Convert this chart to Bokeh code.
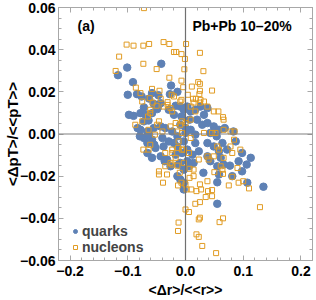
import numpy as np
from bokeh.plotting import figure
from bokeh.models import FixedTicker, LinearAxis, Span, Label, Range1d
from bokeh.embed import file_html
from bokeh.resources import INLINE

quarks_x = [-0.101, -0.117, -0.042, -0.091, -0.025, -0.014, -0.100, -0.084, -0.076, -0.063,
            -0.058, -0.047, -0.027, -0.072, -0.055, -0.048, -0.017, -0.009, -0.098, -0.090,
            -0.078, -0.069, -0.072, -0.064, -0.058, -0.049, -0.029, -0.020, -0.003, -0.043,
            -0.078, -0.066, -0.055, -0.043, -0.035, -0.023, -0.009, 0.000, -0.072, -0.058,
            -0.040, -0.029, -0.052, -0.038, -0.014, -0.058, -0.043, -0.032, -0.017, -0.006,
            -0.026, -0.012, 0.009, 0.017, 0.026, 0.038, 0.032, 0.020, 0.029, 0.038,
            0.049, 0.058, 0.043, 0.009, 0.017, 0.000, -0.014, -0.020, -0.003, 0.017,
            0.038, 0.049, 0.064, 0.087, 0.003, 0.023, 0.058, 0.072, 0.012, 0.038,
            0.061, 0.098, 0.113, -0.009, 0.014, 0.043, 0.066, 0.092, 0.055, -0.007,
            0.007, 0.068, 0.083, 0.054, -0.014, -0.003, 0.006, 0.031, 0.058, 0.077,
            0.106, 0.098, 0.081, 0.107, 0.135, 0.055, 0.055, -0.003, -0.009, -0.036,
            -0.003, 0.003, -0.066, -0.083, -0.063, -0.079, -0.066, -0.054, 0.003]
quarks_y = [0.0315, 0.0279, 0.0333, 0.0246, 0.0230, 0.0200, 0.0186, 0.0189, 0.0178, 0.0168,
            0.0194, 0.0184, 0.0189, 0.0126, 0.0143, 0.0126, 0.0134, 0.0130, 0.0091, 0.0086,
            0.0099, 0.0091, 0.0060, 0.0064, 0.0099, 0.0118, 0.0115, 0.0091, 0.0115, 0.0146,
            0.0020, 0.0012, 0.0028, 0.0036, 0.0028, 0.0012, 0.0044, 0.0028, -0.0019, -0.0027,
            -0.0019, -0.0035, -0.0066, -0.0059, -0.0059, -0.0113, -0.0106, -0.0121, -0.0098, -0.0090,
            -0.0153, -0.0145, 0.0107, 0.0115, 0.0130, 0.0123, 0.0091, 0.0068, 0.0044, 0.0052,
            0.0036, 0.0020, 0.0005, 0.0020, -0.0003, 0.0005, -0.0011, -0.0043, -0.0035, -0.0043,
            -0.0043, -0.0059, -0.0043, -0.0035, -0.0074, -0.0082, -0.0082, -0.0074, -0.0098, -0.0106,
            -0.0113, -0.0090, -0.0113, -0.0137, -0.0137, -0.0129, -0.0145, -0.0129, -0.0153, 0.0083,
            0.0068, 0.0028, 0.0012, -0.0011, -0.0200, -0.0169, -0.0153, -0.0184, -0.0192, -0.0150,
            -0.0145, -0.0177, -0.0200, -0.0231, -0.0250, -0.0229, -0.0331, -0.0263, -0.0216, -0.0129,
            -0.0231, -0.0129, -0.0090, 0.0028, -0.0003, -0.0011, -0.0043, -0.0051, 0.0130]

nucleons_x = [-0.072, -0.102, -0.090, -0.073, -0.063, -0.038, -0.028, 0.001, -0.115, -0.073,
              -0.121, -0.050, -0.020, -0.016, -0.007, -0.001, -0.028, -0.007, -0.086, -0.058,
              -0.045, -0.078, -0.024, -0.043, -0.007, -0.075, -0.062, -0.057, -0.031, -0.031,
              0.004, 0.025, 0.031, -0.002, 0.022, 0.025, 0.011, -0.004, 0.046, 0.025,
              0.024, -0.020, 0.013, 0.018, 0.032, 0.014, 0.025, 0.038, 0.065, 0.057,
              0.085, -0.061, -0.061, -0.075, -0.046, -0.049, -0.040, -0.026, -0.017, -0.009,
              -0.064, -0.073, -0.064, -0.061, -0.035, -0.023, -0.012, -0.013, -0.006, -0.026,
              -0.046, -0.032, -0.038, -0.009, 0.026, 0.049, -0.026, -0.023, -0.006, 0.009,
              0.000, -0.014, -0.006, 0.009, 0.032, 0.046, 0.052, 0.066, 0.078, 0.066,
              0.055, 0.058, 0.078, 0.084, 0.095, 0.081, 0.038, 0.049, 0.066, 0.023,
              0.040, 0.061, 0.090, 0.009, 0.017, -0.003, 0.006, -0.023, -0.017, -0.023,
              -0.014, -0.003, 0.007, 0.014, 0.064, 0.065, 0.050, 0.081, 0.007, 0.014,
              0.038, -0.013, 0.000, 0.002, 0.010, 0.025, 0.027, 0.019, 0.039, 0.046,
              0.035, 0.046, 0.075, 0.092, 0.100, 0.110, 0.017, 0.025, 0.000, 0.006,
              0.023, 0.025, 0.059, 0.065, 0.129, -0.012, -0.013, 0.019, 0.023, 0.029,
              0.053, -0.039, -0.035, -0.046, -0.010, -0.007, -0.050, -0.065, -0.087, -0.053]
nucleons_y = [0.0597, 0.0424, 0.0419, 0.0419, 0.0427, 0.0436, 0.0427, 0.0427, 0.0367, 0.0333,
              0.0299, 0.0308, 0.0389, 0.0389, 0.0379, 0.0356, 0.0267, 0.0253, 0.0220, 0.0214,
              0.0205, 0.0194, 0.0186, 0.0167, 0.0162, 0.0154, 0.0170, 0.0149, 0.0151, 0.0138,
              0.0186, 0.0385, 0.0298, 0.0307, 0.0246, 0.0238, 0.0225, 0.0222, 0.0206, 0.0205,
              0.0189, 0.0178, 0.0167, 0.0167, 0.0154, 0.0149, 0.0149, 0.0130, 0.0080, 0.0107,
              0.0012, 0.0115, 0.0099, 0.0060, 0.0060, 0.0044, 0.0012, 0.0036, 0.0052, 0.0044,
              0.0020, -0.0074, -0.0074, -0.0051, -0.0090, -0.0090, -0.0035, -0.0066, -0.0074, -0.0137,
              -0.0192, -0.0192, 0.0130, 0.0154, 0.0162, 0.0107, 0.0123, 0.0107, 0.0060, 0.0068,
              0.0052, 0.0012, 0.0005, -0.0019, 0.0005, 0.0005, 0.0005, 0.0020, 0.0012, 0.0068,
              -0.0059, -0.0074, -0.0059, -0.0027, -0.0074, -0.0090, -0.0106, -0.0106, -0.0113, -0.0121,
              -0.0121, -0.0153, -0.0161, 0.0130, 0.0107, -0.0074, -0.0090, -0.0074, -0.0113, -0.0145,
              -0.0150, -0.0137, -0.0165, -0.0169, -0.0169, -0.0189, -0.0181, -0.0203, -0.0208, -0.0200,
              -0.0224, -0.0244, -0.0239, -0.0263, -0.0263, -0.0239, -0.0263, -0.0271, -0.0271, -0.0266,
              -0.0299, -0.0295, -0.0244, -0.0231, -0.0224, -0.0258, -0.0331, -0.0323, -0.0358, -0.0370,
              -0.0405, -0.0397, -0.0418, -0.0400, -0.0347, -0.0420, -0.0460, -0.0476, -0.0488, -0.0531,
              -0.0565, -0.0231, -0.0153, -0.0177, -0.0184, -0.0231, 0.0134, 0.0083, 0.0044, -0.0003]

x_ticks = [-0.2, -0.1, 0.0, 0.1, 0.2]
x_tick_labels = ["\u22120.2", "\u22120.1", "0.0", "0.1", "0.2"]
y_ticks = [-0.06, -0.04, -0.02, 0.0, 0.02, 0.04, 0.06]
y_tick_labels = ["\u22120.06", "\u22120.04", "\u22120.02", "0.00", "0.02", "0.04", "0.06"]

BLUE = "#5E81B5"
ORANGE = "#E19C24"
FRAME = "#a8a8a8"
FONT = "Liberation Sans"

p = figure(width=316, height=300, output_backend="svg", toolbar_location=None,
           x_range=Range1d(-0.22, 0.22), y_range=Range1d(-0.06, 0.06),
           min_border_left=58, min_border_right=4, min_border_top=7, min_border_bottom=39,
           x_axis_label="<\u0394r>/<<r>>", y_axis_label="<\u0394pT>/<<pT>>")
p.grid.visible = False
p.outline_line_color = FRAME
p.background_fill_color = "white"
p.border_fill_color = "white"

x_minor = list(np.round(np.arange(-0.22, 0.2201, 0.02), 3))
y_minor = list(np.round(np.arange(-0.06, 0.0601, 0.005), 4))
xt = FixedTicker(ticks=x_ticks, minor_ticks=x_minor)
yt = FixedTicker(ticks=y_ticks, minor_ticks=y_minor)

def style_axis(ax, labels):
    ax.axis_line_color = FRAME
    ax.major_tick_line_color = FRAME
    ax.minor_tick_line_color = FRAME
    ax.major_tick_in = 5
    ax.major_tick_out = 0
    ax.minor_tick_in = 3
    ax.minor_tick_out = 0
    if labels:
        ax.major_label_text_font = FONT
        ax.major_label_text_font_style = "bold"
        ax.major_label_text_font_size = "14px"
        ax.major_label_text_color = "black"
        ax.axis_label_text_font = FONT
        ax.axis_label_text_font_style = "bold"
        ax.axis_label_text_font_size = "14px"
        ax.axis_label_text_color = "black"
    else:
        ax.major_label_text_font_size = "1px"
        ax.major_label_text_color = None
        ax.major_label_standoff = 0

p.xaxis.ticker = xt
p.yaxis.ticker = yt
p.xaxis.major_label_overrides = dict(zip(x_ticks, x_tick_labels))
p.yaxis.major_label_overrides = dict(zip(y_ticks, y_tick_labels))
style_axis(p.xaxis[0], True)
style_axis(p.yaxis[0], True)
p.xaxis.major_label_standoff = 5
p.xaxis.axis_label_standoff = 3
p.yaxis.major_label_standoff = 3
p.yaxis.axis_label_standoff = -4
p.yaxis.axis_label_text_font_size = "15px"

top = LinearAxis(ticker=xt)
right = LinearAxis(ticker=yt)
style_axis(top, False)
style_axis(right, False)
p.add_layout(top, "above")
p.add_layout(right, "right")

p.add_layout(Span(location=0, dimension="width", line_color="#808080", line_width=1.2))
p.add_layout(Span(location=0, dimension="height", line_color="#707070", line_width=1.2))

p.scatter(quarks_x, quarks_y, marker="circle", size=7.5, fill_color=BLUE, line_color=BLUE,
          legend_label="quarks")
p.scatter(nucleons_x, nucleons_y, marker="square", size=5, fill_color=None, line_color=ORANGE,
          line_width=1, legend_label="nucleons")

p.add_layout(Label(x=-0.187, y=0.0475, text="(a)", text_font=FONT, text_font_style="bold",
                   text_font_size="14px", text_color="black"))
p.add_layout(Label(x=0.012, y=0.0475, text="Pb+Pb 10\u201320%", text_font=FONT,
                   text_font_style="bold", text_font_size="14px", text_color="black"))

lg = p.legend[0]
lg.location = (9, 2)
lg.border_line_alpha = 0
lg.background_fill_alpha = 0
lg.label_text_font = FONT
lg.label_text_font_style = "bold"
lg.label_text_font_size = "14px"
lg.glyph_width = 10
lg.glyph_height = 14
lg.label_height = 14
lg.spacing = -2
lg.padding = 3
lg.margin = 0
lg.label_standoff = 2

open("out.html", "w").write(file_html(p, INLINE))
